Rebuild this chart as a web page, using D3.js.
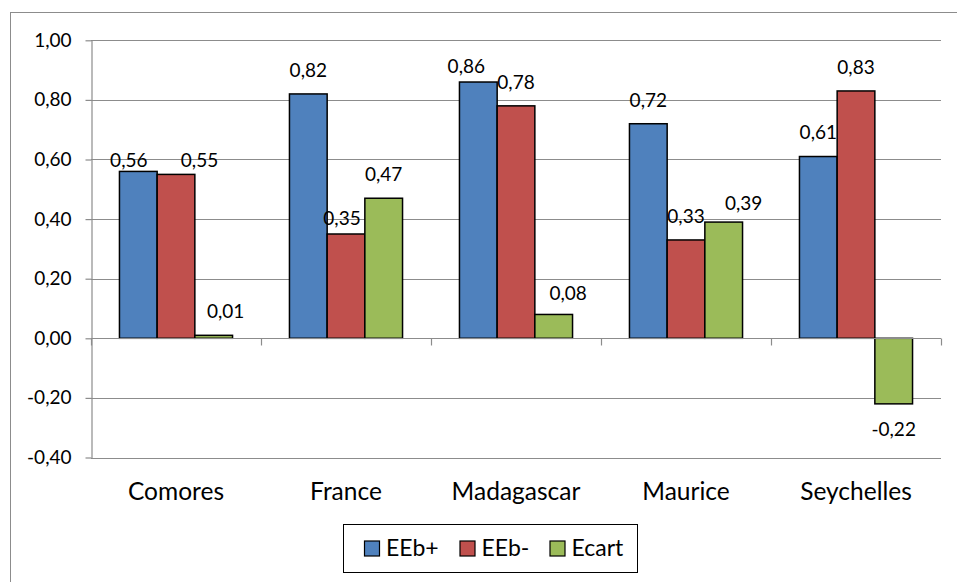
<!DOCTYPE html>
<html>
<head>
<meta charset="utf-8">
<script src="https://cdn.jsdelivr.net/npm/d3@7"></script>
<style>
  html, body { margin: 0; padding: 0; background: #fff; }
  svg { display: block; font-family: Lato, "Open Sans", sans-serif; }
</style>
</head>
<body>
<svg id="chart" width="957" height="582"></svg>
<script>
// ---- data ----
const categories = ["Comores", "France", "Madagascar", "Maurice", "Seychelles"];
const seriesNames = ["EEb+", "EEb-", "Ecart"];
const eebPlus  = [0.56, 0.82, 0.86, 0.72, 0.61];
const eebMinus = [0.55, 0.35, 0.78, 0.33, 0.83];
const ecart    = [0.01, 0.47, 0.08, 0.39, -0.22];
const yTicks   = [-0.4, -0.2, 0, 0.2, 0.4, 0.6, 0.8, 1.0];

// ---- style / layout ----
const colors = ["#4F81BD", "#C0504D", "#9BBB59"];
// manual label nudges (dx, dy) as placed in the original, per series per category
const labelNudge = [
  [[-9.5, 12.8], [0, 0], [-12, 8.2], [0, 0], [0, 0]],
  [[23.5, 9.8], [-4, 8.2], [0, 0], [0, 0], [0, 0]],
  [[12, 0], [0, 0], [14.5, 2.7], [20, 5], [0, 0]]
];

const seriesValues = [eebPlus, eebMinus, ecart];
const fmt = v => d3.format(".2f")(v).replace(".", ",").replace("−", "-");

const svg = d3.select("#chart");

// outer chart border
svg.append("rect")
  .attr("x", 10.5).attr("y", 12.5)
  .attr("width", 1000).attr("height", 700)
  .attr("fill", "none").attr("stroke", "#8c8c8c").attr("stroke-width", 1);

const plot = { left: 91, right: 941, top: 40.3, bottom: 457.5 };

const y = d3.scaleLinear().domain([-0.4, 1.0]).range([plot.bottom, plot.top]);
const x0 = d3.scaleBand().domain(categories).range([plot.left, plot.right]).paddingInner(0).paddingOuter(0);
const x1 = d3.scaleBand().domain(seriesNames).range([0, x0.bandwidth()]).paddingInner(0).paddingOuter(0.755);

const gridColor = "#8c8c8c";

// gridlines
svg.append("g").selectAll("line")
  .data(yTicks.filter(t => Math.abs(t) > 1e-9))
  .join("line")
  .attr("x1", plot.left).attr("x2", plot.right)
  .attr("y1", d => Math.round(y(d)) + 0.5).attr("y2", d => Math.round(y(d)) + 0.5)
  .attr("stroke", gridColor).attr("stroke-width", 1.2);

// y axis
const yAxis = d3.axisLeft(y).tickValues(yTicks).tickFormat(fmt).tickSizeOuter(0).tickSizeInner(6).tickPadding(14);
const gy = svg.append("g").attr("transform", `translate(${plot.left + 0.5},0)`).call(yAxis);
gy.select(".domain").attr("stroke", gridColor).attr("stroke-width", 1.2);
gy.selectAll(".tick line").attr("stroke", gridColor).attr("stroke-width", 1.2);
gy.selectAll(".tick text")
  .attr("font-family", "Lato, 'Open Sans', sans-serif")
  .attr("font-size", 19).attr("fill", "#000");

// bars
const groups = svg.append("g").selectAll("g")
  .data(seriesNames)
  .join("g")
  .attr("fill", (d, i) => colors[i]);

groups.each(function (sName, si) {
  d3.select(this).selectAll("rect")
    .data(seriesValues[si])
    .join("rect")
    .attr("x", (v, ci) => x0(categories[ci]) + x1(sName))
    .attr("width", x1.bandwidth())
    .attr("y", v => y(Math.max(0, v)))
    .attr("height", v => Math.abs(y(v) - y(0)))
    .attr("stroke", "#000").attr("stroke-width", 1.5);
});

// x axis (zero line) with category boundary ticks
const zeroY = Math.round(y(0)) + 0.5;
const xAxisG = svg.append("g");
xAxisG.append("line")
  .attr("x1", plot.left).attr("x2", plot.right)
  .attr("y1", zeroY).attr("y2", zeroY)
  .attr("stroke", gridColor).attr("stroke-width", 1.2);
const boundaries = categories.map(c => x0(c) + x0.bandwidth()).concat([x0(categories[0])]);
xAxisG.selectAll("line.tk")
  .data(boundaries)
  .join("line").attr("class", "tk")
  .attr("x1", d => Math.round(d) + 0.5).attr("x2", d => Math.round(d) + 0.5)
  .attr("y1", zeroY).attr("y2", zeroY + 7)
  .attr("stroke", gridColor).attr("stroke-width", 1.2);

// category labels
svg.append("g").selectAll("text")
  .data(categories)
  .join("text")
  .attr("x", d => x0(d) + x0.bandwidth() / 2)
  .attr("y", 500)
  .attr("text-anchor", "middle")
  .attr("font-size", 24.5)
  .attr("fill", "#000")
  .text(d => d);

// data labels
groups.each(function (sName, si) {
  d3.select(this).selectAll("text")
    .data(seriesValues[si])
    .join("text")
    .attr("x", (v, ci) => x0(categories[ci]) + x1(sName) + x1.bandwidth() / 2 + labelNudge[si][ci][0])
    .attr("y", (v, ci) => (v >= 0 ? y(v) - 17.2 : y(v) + 31.8) + labelNudge[si][ci][1])
    .attr("text-anchor", "middle")
    .attr("font-size", 19)
    .attr("fill", "#000")
    .text(v => fmt(v));
});

// legend
const legend = svg.append("g");
legend.append("rect")
  .attr("x", 343.5).attr("y", 524.5).attr("width", 294).attr("height", 48)
  .attr("fill", "#fff").attr("stroke", "#000").attr("stroke-width", 1);
const legendX = [364, 459.5, 549.5];
seriesNames.forEach((s, i) => {
  legend.append("rect")
    .attr("x", legendX[i] + 0.5).attr("y", 541)
    .attr("width", 15).attr("height", 15)
    .attr("fill", colors[i]).attr("stroke", "#000").attr("stroke-width", 1.2);
  legend.append("text")
    .attr("x", legendX[i] + 22).attr("y", 556)
    .attr("font-size", 23)
    .attr("fill", "#000")
    .text(s);
});
</script>
</body>
</html>
